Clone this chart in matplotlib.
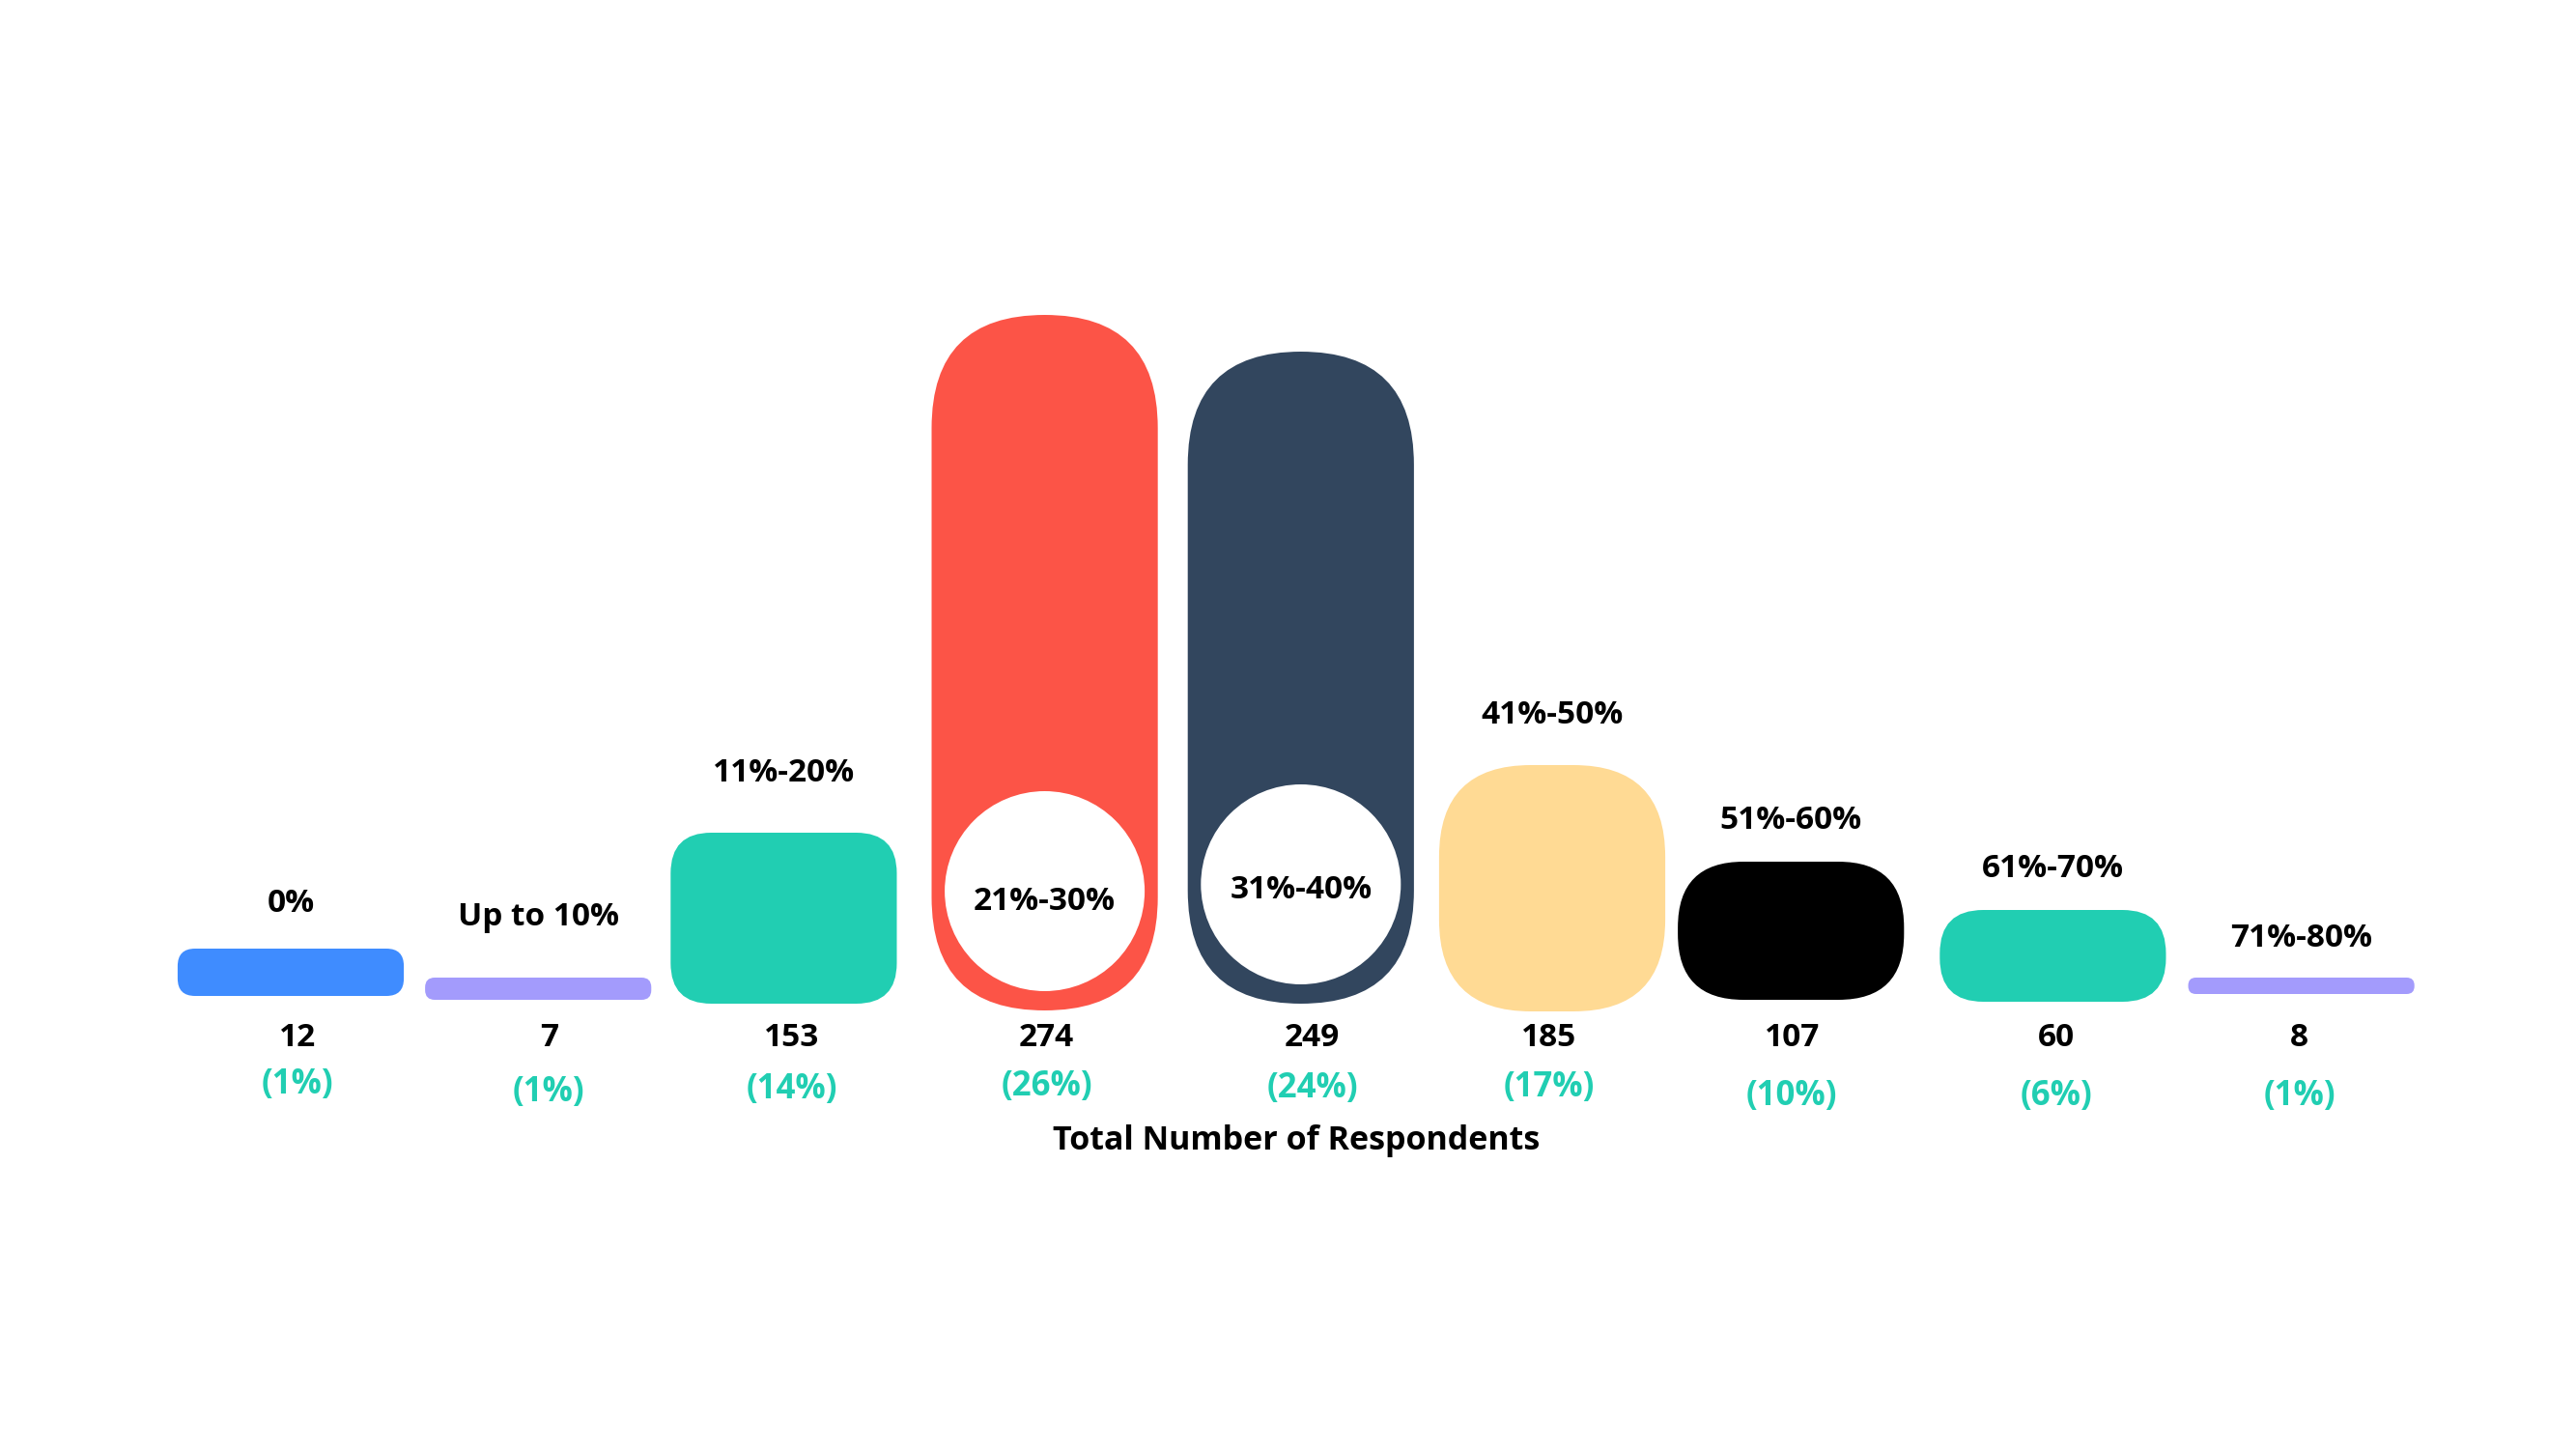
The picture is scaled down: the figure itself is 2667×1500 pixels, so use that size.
import matplotlib
matplotlib.use("Agg")
import matplotlib.pyplot as plt
from matplotlib.patches import FancyBboxPatch, Ellipse

# data
categories = ["0%", "Up to 10%", "11%-20%", "21%-30%", "31%-40%",
              "41%-50%", "51%-60%", "61%-70%", "71%-80%"]
counts = [12, 7, 153, 274, 249, 185, 107, 60, 8]
shares = [1, 1, 14, 26, 24, 17, 10, 6, 1]
# drawn heights of the shapes (infographic, not to scale with counts)
bar_heights = [49, 23, 177, 720, 675, 255, 143, 95, 17]
bar_offsets = [9, 5, 1, -6, 1, -7, 5, 3, 11]
inside_label = [False, False, False, True, True, False, False, False, False]

# styling
colors = ["#3F8CFF", "#A39BFC", "#21CEB2", "#FC5447", "#32465E",
          "#FFDA94", "#000000", "#21CEB2", "#A39BFC"]
radii = [18, 10, 42, 117, 117, 95, 68, 45, 8]
x_nudge = [0, -4, -10, 0, 5, 5, -8, 3, 0]                 # pixels
text_nudge = [7, 7, -2, 2, 17, 2, -7, 7, -2]              # pixels
label_y = [944, 958, 809, 942, 930, 749, 858, 908, 980]   # pixel rows (baselines)
pct_y = [1132, 1140, 1137, 1134, 1136, 1135, 1144, 1144, 1144]
value_y = 1083
title_y = 1190
teal = "#21CEB2"
font = ["Open Sans", "DejaVu Sans"]

W, H = 2667, 1500
X0, STEP = 301, 260.2
BASE = 1040


def py(px):
    return BASE - px


fig = plt.figure(figsize=(W / 100, H / 100), dpi=100)
ax = fig.add_axes([0, 0, 1, 1])
ax.set_xlim(-X0 / STEP, (W - X0) / STEP)
ax.set_ylim(BASE - H, BASE)
ax.axis("off")

bw = 0.9
for i, (h, off) in enumerate(zip(bar_heights, bar_offsets)):
    xc = i + x_nudge[i] / STEP
    xt = i + text_nudge[i] / STEP
    r = min(radii[i], h / 2, bw * STEP / 2)
    bar = FancyBboxPatch((xc - bw / 2, off), bw, h,
                         boxstyle=f"round,pad=0,rounding_size={r / STEP}",
                         mutation_aspect=STEP, fc=colors[i], ec="none")
    ax.add_patch(bar)
    if inside_label[i]:
        cy = off + 123.5
        ax.add_patch(Ellipse((xc, cy), 2 * 103.5 / STEP, 2 * 103.5,
                             fc="white", ec="none"))

    ax.text(xc, py(label_y[i]), categories[i], ha="center", va="baseline",
            fontsize=24, fontweight="bold", family=font, color="black")
    ax.text(xt, py(value_y), str(counts[i]), ha="center", va="baseline",
            fontsize=24, fontweight="bold", family=font, color="black")
    ax.text(xt, py(pct_y[i]), f"({shares[i]}%)", ha="center", va="baseline",
            fontsize=25, fontweight="bold", family=font, color=teal)

ax.text(4, py(title_y), "Total Number of Respondents", ha="center",
        va="baseline", fontsize=24.5, fontweight="bold", family=font,
        color="black")

fig.savefig("out.png", dpi=100, facecolor="white")
